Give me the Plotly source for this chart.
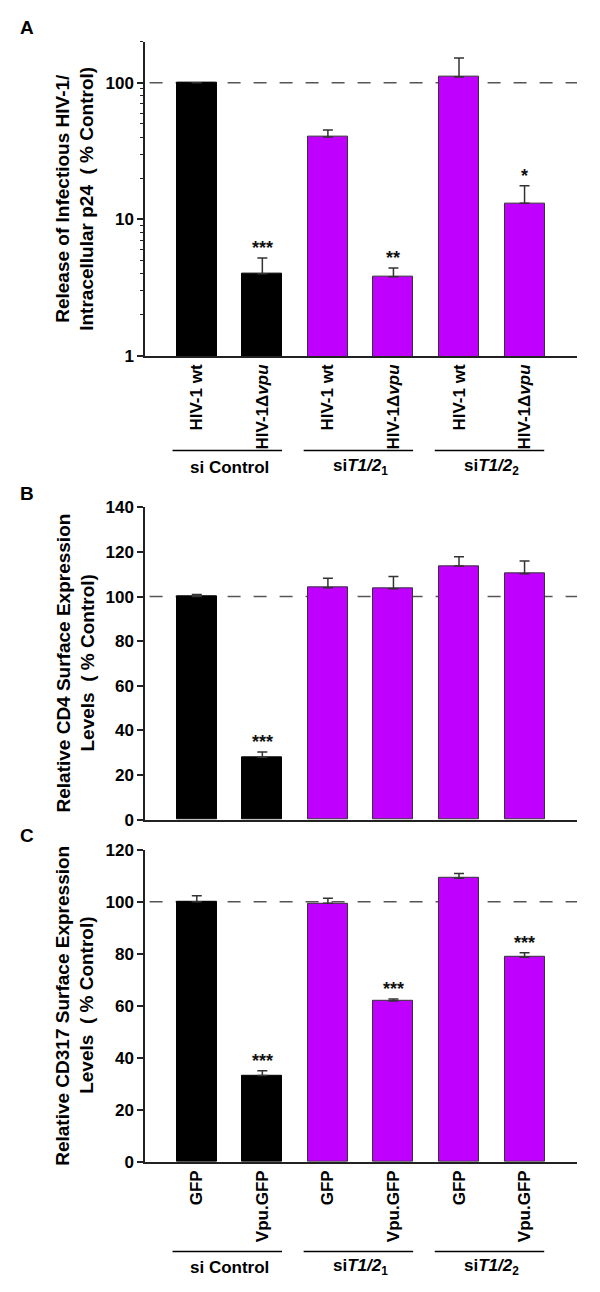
import math
import plotly.graph_objects as go

# ---- data ----
labels_a = ["HIV-1 wt", "HIV-1Δ<i>vpu</i>"] * 3
labels_c = ["GFP", "Vpu.GFP"] * 3
groups = ["si Control", "si<i>T1/2</i><sub>1</sub>", "si<i>T1/2</i><sub>2</sub>"]

release_val = [100, 4.0, 40, 3.8, 110, 13.1]
release_err = [100, 5.2, 45, 4.4, 152, 17.6]
release_sig = ["", "***", "", "**", "", "*"]

cd4_val = [100, 28.0, 104.0, 103.5, 113.7, 110.2]
cd4_err = [100.9, 30.3, 108.2, 109.0, 117.8, 116.0]
cd4_sig = ["", "***", "", "", "", ""]

cd317_val = [100, 33.2, 99.4, 61.8, 109.1, 78.7]
cd317_err = [102.3, 35.0, 101.4, 62.6, 110.9, 80.4]
cd317_sig = ["", "***", "", "***", "", "***"]

ytitles = {
    "A": ["Release of Infectious HIV-1/", "Intracellular p24  ( % Control)"],
    "B": ["Relative CD4 Surface Expression", "Levels  ( % Control)"],
    "C": ["Relative CD317 Surface Expression", "Levels  ( % Control)"],
}

BLACK = "#000000"
PURPLE = "#BF00FF"
colors = [BLACK, BLACK, PURPLE, PURPLE, PURPLE, PURPLE]
outline = ["#000000", "#000000", "#333333", "#333333", "#333333", "#333333"]
FONT = "Arial, Liberation Sans, sans-serif"

# the page body has a default 8px margin, so the figure is made smaller
OFF = 8
W, H = 600 - OFF, 1292 - OFF


def py(px):
    # page pixel row -> paper y
    return 1 - (px - OFF) / H


def pxx(px):
    # page pixel column -> paper x
    return (px - OFF) / W


def b(s):
    return "<b>%s</b>" % s


xs = list(range(6))
xrange_ = [-0.79, 5.80]
xdom = [pxx(145), pxx(577)]

fig = go.Figure()

panels = [
    ("A", "x", "y", release_val, release_err, release_sig, (33, 352)),
    ("B", "x2", "y2", cd4_val, cd4_err, cd4_sig, (505.7, 822.7)),
    ("C", "x3", "y3", cd317_val, cd317_err, cd317_sig, (853.3, 1170)),
]

for letter, xa, ya, vals, errs, sig, (top, bot) in panels:
    fig.add_trace(go.Bar(
        x=xs, y=vals, xaxis=xa, yaxis=ya, width=0.61,
        marker=dict(color=colors, line=dict(color=outline, width=1)),
        error_y=dict(type="data", symmetric=False,
                     array=[e - v for e, v in zip(errs, vals)],
                     arrayminus=[0] * 6, color="#333333", thickness=1.5, width=5),
        showlegend=False, hoverinfo="skip",
    ))
    # reference line at 100 %
    fig.add_shape(type="line", xref=xa, yref=ya, x0=-0.72, x1=xrange_[1],
                  y0=100, y1=100, layer="below",
                  line=dict(color="#555555", width=1.5, dash="13px,13px"))
    # significance stars
    for i, s in enumerate(sig):
        if not s:
            continue
        yv = math.log10(errs[i]) if letter == "A" else errs[i]
        fig.add_annotation(x=xs[i], y=yv, xref=xa, yref=ya, text=b(s),
                           showarrow=False, xanchor="center", yanchor="bottom",
                           yshift=-2, font=dict(family=FONT, size=18, color="#111"))
    # panel letter
    fig.add_annotation(x=pxx(27), y=py(top - 14), xref="paper", yref="paper",
                       text=b(letter), showarrow=False,
                       xanchor="center", yanchor="middle",
                       font=dict(family=FONT, size=19, color="#000"))
    # y-axis title, two lines
    mid = py((top + bot) / 2)
    for k, line in enumerate(ytitles[letter]):
        fig.add_annotation(x=pxx(63 + 24 * k), y=mid, xref="paper", yref="paper",
                           text=b(line), textangle=-90, showarrow=False,
                           xanchor="center", yanchor="middle",
                           font=dict(family=FONT, size=19, color="#000"))

# group brackets under panels A and C
for xa, line_px, lab_px in [("x", 448, 465), ("x3", 1261, 1277)]:
    for g, name in enumerate(groups):
        a, c = 2 * g, 2 * g + 1
        fig.add_shape(type="line", xref=xa, yref="paper", x0=a - 0.37, x1=c + 0.3,
                      y0=py(line_px), y1=py(line_px), line=dict(color="#000", width=1.5))
        fig.add_annotation(x=(a + c) / 2, y=py(lab_px), xref=xa, yref="paper",
                           text=b(name), showarrow=False,
                           xanchor="center", yanchor="middle",
                           font=dict(family=FONT, size=17, color="#000"))

tickfont = dict(family=FONT, size=17, color="#000")
axis_common = dict(showgrid=False, zeroline=False, showline=True,
                   linecolor="#222", linewidth=1.5)
ytick = dict(axis_common, ticks="outside", ticklen=6, tickwidth=1.5,
             tickcolor="#222", tickfont=tickfont)
xcommon = dict(axis_common, range=xrange_, domain=xdom, tickvals=xs, ticks="",
               tickangle=-90, tickfont=tickfont, fixedrange=True)

minor_vals = [v * m for v in (1, 10, 100) for m in range(2, 10) if v * m <= 200]

fig.update_layout(
    width=W, height=H, autosize=False,
    margin=dict(l=0, r=0, t=0, b=0),
    paper_bgcolor="white", plot_bgcolor="white",
    bargap=0,
    xaxis=dict(xcommon, anchor="y", ticktext=[b(t) for t in labels_a]),
    xaxis2=dict(xcommon, anchor="y2", showticklabels=False),
    xaxis3=dict(xcommon, anchor="y3", ticktext=[b(t) for t in labels_c]),
    yaxis=dict(ytick, type="log", range=[0, math.log10(200)],
               domain=[py(352), py(33)], anchor="x",
               tickvals=[1, 10, 100], ticktext=[b(t) for t in ("1", "10", "100")],
               minor=dict(tickvals=minor_vals, ticks="outside", ticklen=3,
                          tickwidth=1, tickcolor="#222")),
    yaxis2=dict(ytick, range=[0, 140], domain=[py(822.7), py(505.7)],
                anchor="x2", tickvals=list(range(0, 141, 20)),
                ticktext=[b(v) for v in range(0, 141, 20)]),
    yaxis3=dict(ytick, range=[0, 120], domain=[py(1170), py(853.3)],
                anchor="x3", tickvals=list(range(0, 121, 20)),
                ticktext=[b(v) for v in range(0, 121, 20)]),
)

fig.write_html("out.html")
